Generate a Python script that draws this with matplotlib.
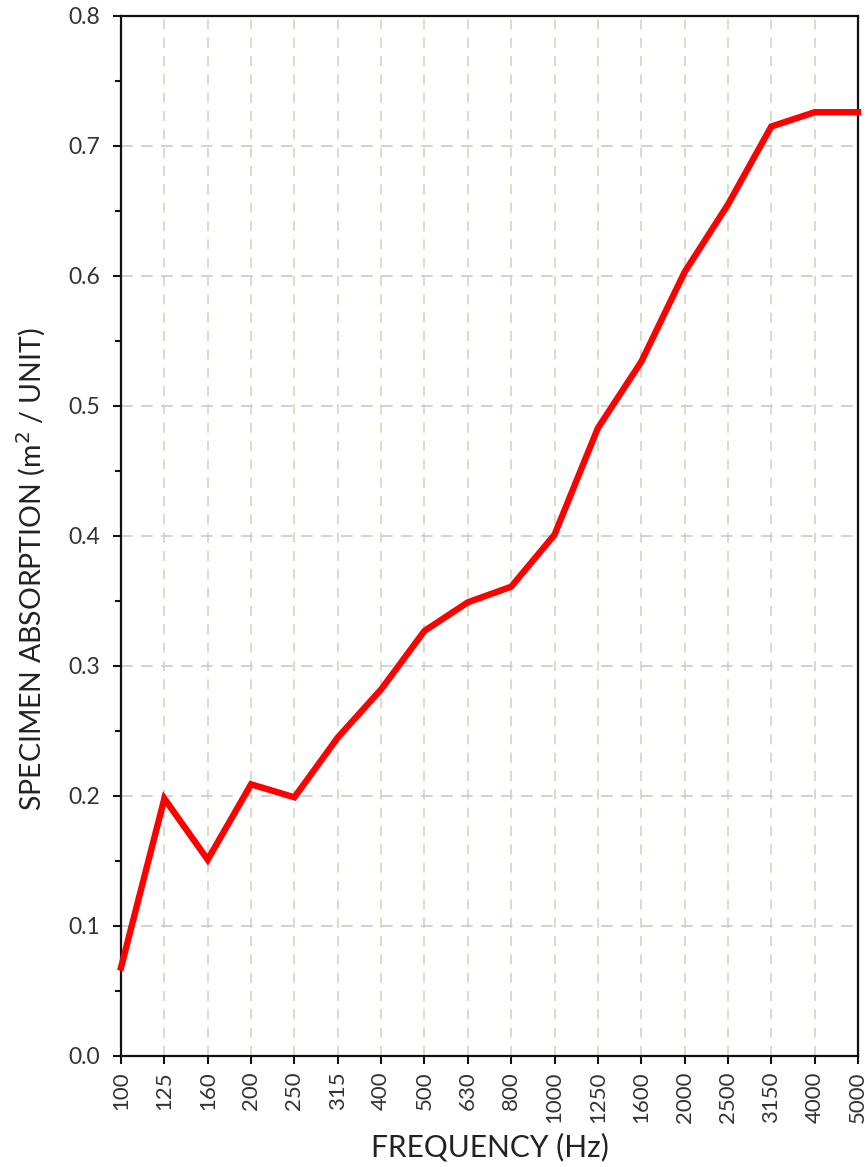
import matplotlib
matplotlib.use("Agg")
import matplotlib.pyplot as plt
from matplotlib.ticker import MultipleLocator, FormatStrFormatter

plt.rcParams['font.family'] = ['Lato', 'DejaVu Sans']

freq_labels = ["100", "125", "160", "200", "250", "315", "400", "500", "630", "800",
               "1000", "1250", "1600", "2000", "2500", "3150", "4000", "5000"]
absorption = [0.068, 0.198, 0.151, 0.209, 0.199, 0.245, 0.282, 0.327, 0.349, 0.361,
              0.401, 0.483, 0.534, 0.603, 0.655, 0.715, 0.726, 0.726]

fig = plt.figure(figsize=(8.68, 11.67), dpi=100)
ax = fig.add_axes([121/868, 1 - 1056/1167, (858-121)/868, (1056-16)/1167])

x = list(range(len(freq_labels)))
ax.plot(x, absorption, color='#ff0000', lw=4.6, solid_joinstyle='miter', zorder=3, clip_on=False)

ax.set_xlim(0, len(freq_labels) - 1)
ax.set_ylim(0, 0.8)
ax.set_xticks(x)
ax.set_xticklabels(freq_labels, rotation=90, fontsize=16, color='#333333')
ax.yaxis.set_major_locator(MultipleLocator(0.1))
ax.yaxis.set_minor_locator(MultipleLocator(0.05))
ax.yaxis.set_major_formatter(FormatStrFormatter('%.1f'))
for lab in ax.get_yticklabels():
    lab.set_fontsize(16.5)
    lab.set_color('#333333')

ax.tick_params(axis='x', which='major', direction='out', length=6, width=1.5, color='#111111', pad=5)
ax.tick_params(axis='y', which='major', direction='out', length=6, width=1.5, color='#111111', pad=9)
ax.tick_params(axis='y', which='minor', direction='out', length=4, width=1.5, color='#111111')

for i in x[1:-1]:
    ax.axvline(i, color='#d6d3bd', lw=1.2, ls=(0, (6, 5)), zorder=1)
for v in [0.1, 0.2, 0.3, 0.4, 0.5, 0.6, 0.7]:
    ax.axhline(v, color='#c9c9cf', lw=1.2, ls=(0, (7, 5)), zorder=1)

for s in ax.spines.values():
    s.set_linewidth(1.6)
    s.set_color('#111111')

ax.set_xlabel("FREQUENCY (Hz)", fontsize=21.5, color='#222222', labelpad=7)
ax.set_ylabel("SPECIMEN ABSORPTION (m$^2$ / UNIT)", fontsize=20.5, color='#222222')
ax.yaxis.set_label_coords(-0.099, 0.468)

fig.savefig("out.png", dpi=100)
